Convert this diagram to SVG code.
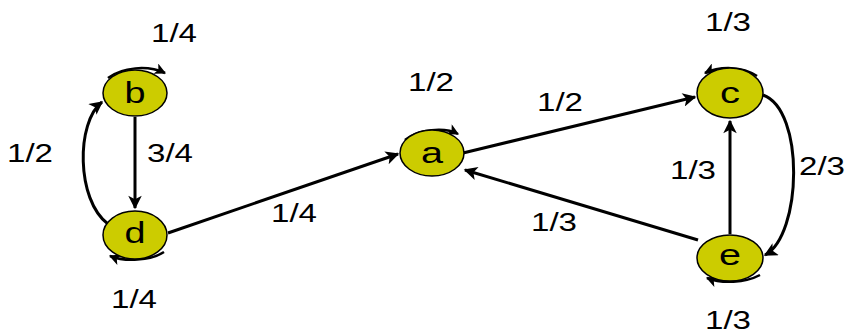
<svg xmlns="http://www.w3.org/2000/svg" width="848" height="336" viewBox="0 0 848 336">
<defs>
<marker id="ah" viewBox="0 0 10 10" refX="9" refY="5" markerWidth="5.5" markerHeight="4.5" orient="auto" markerUnits="strokeWidth">
<path d="M0,0 L10,5 L0,10 L2.5,5 z" fill="#000"/>
</marker>
<style>
.n ellipse{fill:#cccc00;stroke:#000;stroke-width:1.5}
.n text{font-family:"Liberation Sans",Arial,sans-serif;font-size:30px;text-anchor:middle;fill:#000}
.e path{fill:none;stroke:#000;stroke-width:3;marker-end:url(#ah)}
.l{font-family:"Liberation Sans",Arial,sans-serif;font-size:25px;text-anchor:middle;fill:#000}
</style>
</defs>
<rect width="848" height="336" fill="#fff"/>
<g id="connectors" class="e">
<path d="M135,117 L135,208"/>
<path d="M108,224 C76,200 76,122 102,102"/>
<path d="M168,233 L398,154"/>
<path d="M463,153 L695,97"/>
<path d="M698,240 L465,170"/>
<path d="M730,234 L730,121"/>
<path d="M763,95 C805,110 802,235 765,255"/>
<path d="M108,78 C122,67 148,65 165,73" style="stroke-width:2.5"/>
<path d="M405,140 C418,129 445,127 458,134" style="stroke-width:2.5"/>
<path d="M757,76 C742,66 720,66 705,73" style="stroke-width:2.5"/>
<path d="M164,252 C150,261 125,262 110,256" style="stroke-width:2.5"/>
<path d="M760,275 C745,283 722,284 707,278" style="stroke-width:2.5"/>
</g>
<g id="node-b" class="n"><ellipse cx="135" cy="93" rx="32" ry="23"/><text x="135" y="103" textLength="21" lengthAdjust="spacingAndGlyphs">b</text></g>
<g id="node-d" class="n"><ellipse cx="135" cy="235" rx="32" ry="24"/><text x="135" y="243" textLength="21" lengthAdjust="spacingAndGlyphs">d</text></g>
<g id="node-a" class="n"><ellipse cx="432" cy="153" rx="32" ry="23"/><text x="432" y="163" textLength="22" lengthAdjust="spacingAndGlyphs">a</text></g>
<g id="node-c" class="n"><ellipse cx="730" cy="93" rx="33" ry="25"/><text x="730" y="103" textLength="20" lengthAdjust="spacingAndGlyphs">c</text></g>
<g id="node-e" class="n"><ellipse cx="730" cy="258" rx="33" ry="23"/><text x="730" y="265" textLength="22" lengthAdjust="spacingAndGlyphs">e</text></g>
<g id="labels">
<text class="l" x="174" y="42" textLength="46" lengthAdjust="spacingAndGlyphs">1/4</text>
<text class="l" x="30" y="162" textLength="46" lengthAdjust="spacingAndGlyphs">1/2</text>
<text class="l" x="170" y="162" textLength="46" lengthAdjust="spacingAndGlyphs">3/4</text>
<text class="l" x="134" y="308" textLength="46" lengthAdjust="spacingAndGlyphs">1/4</text>
<text class="l" x="294" y="222" textLength="46" lengthAdjust="spacingAndGlyphs">1/4</text>
<text class="l" x="431" y="91" textLength="46" lengthAdjust="spacingAndGlyphs">1/2</text>
<text class="l" x="560" y="111" textLength="46" lengthAdjust="spacingAndGlyphs">1/2</text>
<text class="l" x="554" y="231" textLength="46" lengthAdjust="spacingAndGlyphs">1/3</text>
<text class="l" x="728" y="31" textLength="46" lengthAdjust="spacingAndGlyphs">1/3</text>
<text class="l" x="693" y="179" textLength="46" lengthAdjust="spacingAndGlyphs">1/3</text>
<text class="l" x="822" y="175" textLength="46" lengthAdjust="spacingAndGlyphs">2/3</text>
<text class="l" x="728" y="329" textLength="46" lengthAdjust="spacingAndGlyphs">1/3</text>
</g>
</svg>
